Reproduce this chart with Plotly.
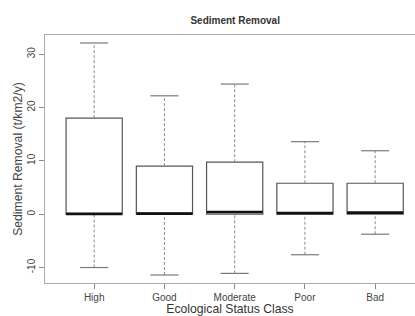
import plotly.graph_objects as go

categories = ["High", "Good", "Moderate", "Poor", "Bad"]
lower_whisker = [-10.0, -11.4, -11.1, -7.6, -3.75]
q1 = [0.0, 0.0, 0.0, 0.0, 0.0]
median = [0.05, 0.1, 0.4, 0.2, 0.3]
q3 = [18.0, 9.0, 9.75, 5.8, 5.8]
upper_whisker = [32.1, 22.2, 24.4, 13.6, 11.9]
y_ticks = [-10, 0, 10, 20, 30]

pos = [i + 1 for i in range(len(categories))]
BOXW = 0.8
CAPW = 0.4

fig = go.Figure()

# whiskers (dashed)
wx, wy = [], []
for p, lo, a, b, hi in zip(pos, lower_whisker, q1, q3, upper_whisker):
    wx += [p, p, None, p, p, None]
    wy += [b, hi, None, lo, a, None]
fig.add_trace(go.Scatter(x=wx, y=wy, mode="lines",
                         line=dict(color="#8a8a8a", width=1, dash="3px,2px"),
                         hoverinfo="skip", showlegend=False))
# caps
cx, cy = [], []
for p, lo, hi in zip(pos, lower_whisker, upper_whisker):
    cx += [p - CAPW / 2, p + CAPW / 2, None, p - CAPW / 2, p + CAPW / 2, None]
    cy += [hi, hi, None, lo, lo, None]
fig.add_trace(go.Scatter(x=cx, y=cy, mode="lines",
                         line=dict(color="#7a7a7a", width=1.2),
                         hoverinfo="skip", showlegend=False))
# boxes
for p, a, m, b in zip(pos, q1, median, q3):
    fig.add_trace(go.Box(x=[p], q1=[a], median=[m], q3=[b],
                         lowerfence=[a], upperfence=[b],
                         width=BOXW, fillcolor="white",
                         line=dict(color="#555555", width=1.2),
                         boxpoints=False, showlegend=False, hoverinfo="skip"))
# medians
mx, my = [], []
for p, m in zip(pos, median):
    mx += [p - BOXW / 2, p + BOXW / 2, None]
    my += [m, m, None]
fig.add_trace(go.Scatter(x=mx, y=my, mode="lines",
                         line=dict(color="#111111", width=2.6),
                         hoverinfo="skip", showlegend=False))

axis_font = dict(family="Liberation Sans, Arial, sans-serif", size=10, color="#444444")

fig.update_layout(
    width=415, height=316,
    margin=dict(l=45, r=0, t=35, b=33, autoexpand=False),
    paper_bgcolor="white", plot_bgcolor="white",
    title=dict(text="<b>Sediment Removal</b>", x=0.5667, xanchor="center",
               y=1 - 20 / 316, yanchor="middle",
               font=dict(family="Liberation Sans, Arial, sans-serif", size=10, color="#333333")),
    xaxis=dict(range=[0.3, 0.3 + 370 / 70.25], tickmode="array", tickvals=pos,
               ticktext=categories, showgrid=False, zeroline=False,
               showline=True, mirror=True, linecolor="#aaaaaa", linewidth=1,
               ticks="outside", ticklen=5, tickcolor="#888888",
               tickfont=axis_font, automargin=False,
               title=dict(text="Ecological Status Class", standoff=5,
                          font=dict(family="Liberation Sans, Arial, sans-serif", size=12.2, color="#333333"))),
    yaxis=dict(range=[-12.9, 33.6], tickmode="array", tickvals=y_ticks,
               ticktext=[str(v) for v in y_ticks], tickangle=-90,
               showgrid=False, zeroline=False,
               showline=True, linecolor="#aaaaaa", linewidth=1,
               ticks="outside", ticklen=5, tickcolor="#888888",
               tickfont=axis_font, automargin=False,
               title=dict(text="Sediment Removal (t/km2/y)", standoff=0,
                          font=dict(family="Liberation Sans, Arial, sans-serif", size=12.2, color="#444444"))),
)

fig.write_html("out.html", config={"displayModeBar": False},
               post_script="document.body.style.margin='0';document.body.style.overflow='hidden';")
